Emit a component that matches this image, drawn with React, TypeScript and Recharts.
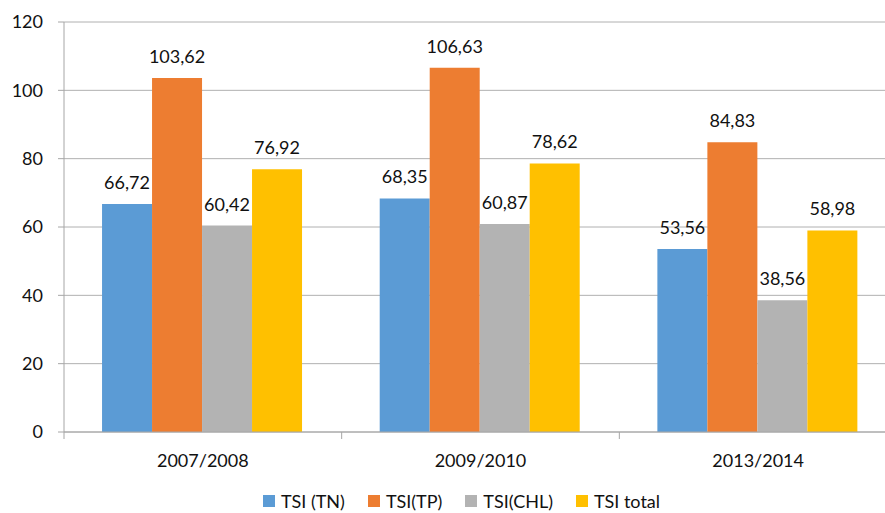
import React from 'react';
import { BarChart, Bar, XAxis, YAxis, CartesianGrid, Legend, LabelList } from 'recharts';

const categories = ['2007/2008', '2009/2010', '2013/2014'];
const tsiTN = [66.72, 68.35, 53.56];
const tsiTP = [103.62, 106.63, 84.83];
const tsiCHL = [60.42, 60.87, 38.56];
const tsiTotal = [76.92, 78.62, 58.98];
const yTicks = [0, 20, 40, 60, 80, 100, 120];

const seriesNames = ['TSI (TN)', 'TSI(TP)', 'TSI(CHL)', 'TSI total'];
const colors = ['#5B9BD5', '#ED7D31', '#B3B3B3', '#FFC000'];

const data = categories.map((c, i) => ({
  cat: c,
  tn: tsiTN[i],
  tp: tsiTP[i],
  chl: tsiCHL[i],
  total: tsiTotal[i],
}));
const keys = ['tn', 'tp', 'chl', 'total'];

const FONT = 'Lato, "Open Sans", sans-serif';
const TEXT = '#111';
const AXIS = '#a6a6a6';
const fmt = (v: any) => Number(v).toFixed(2).replace('.', ',');

const LegendContent = (props: any) => {
  const payload = [...(props.payload || [])].sort(
    (a: any, b: any) => seriesNames.indexOf(a.value) - seriesNames.indexOf(b.value)
  );
  return (
    <div style={{ display: 'flex', justifyContent: 'center', paddingLeft: 26, fontFamily: FONT, fontSize: 18, color: TEXT }}>
      {payload.map((p: any, i: number) => (
        <div key={i} style={{ display: 'flex', alignItems: 'center', marginRight: i < payload.length - 1 ? 23 : 0 }}>
          <span style={{ display: 'inline-block', width: 12, height: 12, background: p.color, marginRight: 6 }} />
          <span>{p.value}</span>
        </div>
      ))}
    </div>
  );
};

const CatTick = (props: any) => {
  const { x, y, width, visibleTicksCount, payload, index } = props;
  const n = visibleTicksCount || categories.length;
  const half = width / n / 2;
  return (
    <g>
      <line x1={x - half} x2={x - half} y1={y} y2={y + 7} stroke={AXIS} />
      {index === n - 1 && <line x1={x + half} x2={x + half} y1={y} y2={y + 7} stroke={AXIS} />}
      <text x={x} y={y + 35} textAnchor="middle" fill={TEXT} fontSize={18} fontFamily={FONT}>
        {payload.value}
      </text>
    </g>
  );
};

export default function App() {
  return (
    <div style={{ position: 'absolute', left: 0, top: 0, width: 885, height: 513, overflow: 'hidden', background: '#fff' }}>
      <BarChart
        width={905}
        height={513}
        data={data}
        margin={{ top: 22, right: 8, bottom: 0, left: 0 }}
        barCategoryGap="13.7%"
        barGap={0}
      >
        <CartesianGrid vertical={false} stroke="#b0b0b0" strokeWidth={1} />
        <XAxis
          dataKey="cat"
          tickLine={false}
          tickSize={0}
          tickMargin={0}
          axisLine={{ stroke: AXIS }}
          tick={<CatTick />}
          height={50}
          interval={0}
        />
        <YAxis
          domain={[0, 120]}
          ticks={yTicks}
          width={64}
          axisLine={{ stroke: AXIS }}
          tickLine={{ stroke: AXIS }}
          tickSize={6}
          tickMargin={15}
          tick={{ fill: TEXT, fontSize: 18, fontFamily: FONT }}
        />
        <Legend verticalAlign="bottom" height={31} wrapperStyle={{ bottom: -8 }} content={<LegendContent />} />
        {keys.map((k, i) => (
          <Bar key={k} dataKey={k} name={seriesNames[i]} fill={colors[i]} isAnimationActive={false}>
            <LabelList
              dataKey={k}
              position="top"
              offset={15}
              formatter={fmt}
              style={{ fill: TEXT, fontSize: 18, fontFamily: FONT }}
            />
          </Bar>
        ))}
      </BarChart>
    </div>
  );
}
